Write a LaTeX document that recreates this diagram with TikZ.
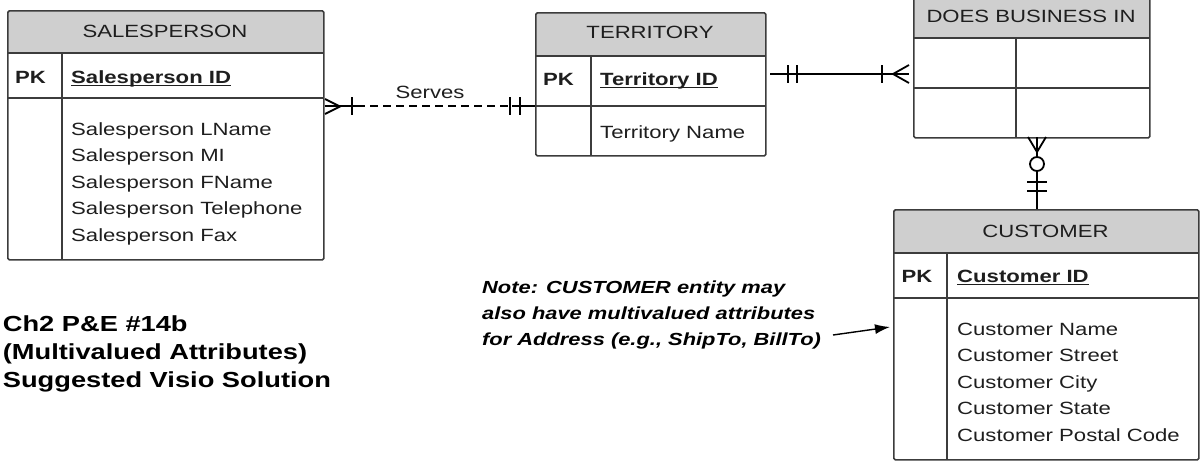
\documentclass[tikz,border=0pt]{standalone}
\usepackage{fontspec}
\setmainfont{Liberation Sans}[FakeStretch=1.25]
\usetikzlibrary{arrows.meta}
\definecolor{hdr}{HTML}{CFCFCF}
\definecolor{bord}{HTML}{3C3C3C}
\definecolor{txt}{HTML}{1E1E1E}
\newcommand\ulx[1]{\setbox0\hbox{#1}\rlap{\rule[-3.4pt]{\wd0}{1.4pt}}\box0}
\begin{document}
\begin{tikzpicture}[x=1pt,y=-1pt,
  tbox/.style={draw=bord, line width=1.7pt, rounded corners=1.5pt, inner sep=0pt, anchor=north west},
  hfill/.style={fill=hdr, rounded corners=1.5pt},
  sep/.style={draw=bord, line width=1.4pt},
  lbl/.style={inner sep=0pt, text=txt, font=\fontsize{17.7}{20}\selectfont},
  ttl/.style={lbl, anchor=base},
  attr/.style={lbl, anchor=base west},
  key/.style={lbl, anchor=base west, font=\fontsize{17.7}{20}\selectfont\bfseries},
  note/.style={inner sep=0pt, anchor=base west, text=black, font=\fontsize{17.5}{20}\selectfont\bfseries\itshape},
  big/.style={inner sep=0pt, anchor=base west, text=black, font=\fontsize{21.8}{24}\selectfont\bfseries},
  conn/.style={line width=1.8pt, draw=black},
  dsh/.style={conn, dash pattern=on 8pt off 5pt},
]
\useasboundingbox (0,0) rectangle (1200,461);

% ---------- SALESPERSON ----------
\fill[hfill] (7,10) rectangle (323,53);
\draw[sep] (7,53) -- (323,53);
\draw[sep] (7,98) -- (323,98);
\draw[sep] (62,53) -- (62,259);
\node[tbox, minimum width=316pt, minimum height=249pt] (sp) at (7,10) {};
\node[ttl] (spT) at (165,37) {SALESPERSON};
\node[key] (spPK) at (15,83) {PK};
\node[key] (spID) at (71,83) {\ulx{Salesperson ID}};
\node[attr] (spA1) at (71,135) {Salesperson LName};
\node[attr] (spA2) at (71,161.6) {Salesperson MI};
\node[attr] (spA3) at (71,188.2) {Salesperson FName};
\node[attr] (spA4) at (71,214.8) {Salesperson Telephone};
\node[attr] (spA5) at (71,241.4) {Salesperson Fax};

% ---------- TERRITORY ----------
\fill[hfill] (535,12) rectangle (765,56);
\draw[sep] (535,56) -- (765,56);
\draw[sep] (535,106) -- (765,106);
\draw[sep] (591,56) -- (591,155);
\node[tbox, minimum width=230pt, minimum height=143pt] (ter) at (535,12) {};
\node[ttl] (terT) at (650,38.5) {TERRITORY};
\node[key] (terPK) at (543,85) {PK};
\node[key] (terID) at (600,85) {\ulx{Territory ID}};
\node[attr] (terA1) at (600,138) {Territory Name};

% ---------- DOES BUSINESS IN ----------
\fill[hfill] (913,-6) rectangle (1149,38);
\draw[sep] (913,38) -- (1149,38);
\draw[sep] (913,88) -- (1149,88);
\draw[sep] (1016,38) -- (1016,137);
\node[tbox, minimum width=236pt, minimum height=143pt] (dbi) at (913,-6) {};
\node[ttl] (dbiT) at (1031,22.5) {DOES BUSINESS IN};

% ---------- CUSTOMER ----------
\fill[hfill] (893,209) rectangle (1198,253);
\draw[sep] (893,253) -- (1198,253);
\draw[sep] (893,298) -- (1198,298);
\draw[sep] (947,253) -- (947,459);
\node[tbox, minimum width=305pt, minimum height=250pt] (cu) at (893,209) {};
\node[ttl] (cuT) at (1045.5,237) {CUSTOMER};
\node[key] (cuPK) at (901.5,282) {PK};
\node[key] (cuID) at (957,282) {\ulx{Customer ID}};
\node[attr] (cuA1) at (957,335) {Customer Name};
\node[attr] (cuA2) at (957,361.6) {Customer Street};
\node[attr] (cuA3) at (957,388.2) {Customer City};
\node[attr] (cuA4) at (957,414.8) {Customer State};
\node[attr] (cuA5) at (957,441.4) {Customer Postal Code};

% ---------- Serves (SALESPERSON -- TERRITORY) ----------
\coordinate (s1) at (sp.east |- 0,106);
\coordinate (s2) at (357,106);
\coordinate (s3) at (512,106);
\coordinate (t1) at (ter.west |- 0,106);
\draw[conn] (s1) -- (s2);
\draw[dsh] (s2) -- (s3);
\draw[conn] (s3) -- (t1);
\draw[conn, line join=miter] (325,99) -- (340,106.5) -- (325,114);
\draw[conn] (352,97) -- (352,115);
\draw[conn] (510,97) -- (510,115);
\draw[conn] (520,97) -- (520,115);
\node[lbl, anchor=base] (serves) at (430,98) {Serves};

% ---------- TERRITORY -- DOES BUSINESS IN ----------
\coordinate (t2) at (770,74);
\coordinate (d1) at (909,74);
\draw[conn] (t2) -- (d1);
\draw[conn] (788,65) -- (788,83);
\draw[conn] (797,65) -- (797,83);
\draw[conn] (882,65) -- (882,83);
\draw[conn] (909,65) -- (893,74) -- (909,83);

% ---------- DOES BUSINESS IN -- CUSTOMER ----------
\coordinate (d2) at (1037,137);
\coordinate (c1) at (1037,209);
\draw[conn] (d2) -- (c1);
\draw[conn] (1028,137) -- (1037,152) -- (1046,137);
\draw[conn, fill=white] (1037,164) circle (7pt);
\draw[conn] (1027,182) -- (1047,182);
\draw[conn] (1027,191) -- (1047,191);

% ---------- Note ----------
\node[note] (n1) at (482,293) {Note: CUSTOMER entity may};
\node[note] (n2) at (482,319) {also have multivalued attributes};
\node[note] (n3) at (482,345) {for Address (e.g., ShipTo, BillTo)};
\coordinate (a1) at (833,335);
\coordinate (a2) at (890,327);
\draw[line width=1.4pt, -{Latex[length=15pt,width=10pt]}] (a1) -- (a2);

% ---------- Title ----------
\node[big] (tt1) at (2.7,331) {Ch2 P\&E \#14b};
\node[big] (tt2) at (2.7,359) {(Multivalued Attributes)};
\node[big] (tt3) at (2.7,387) {Suggested Visio Solution};
\end{tikzpicture}
\end{document}
